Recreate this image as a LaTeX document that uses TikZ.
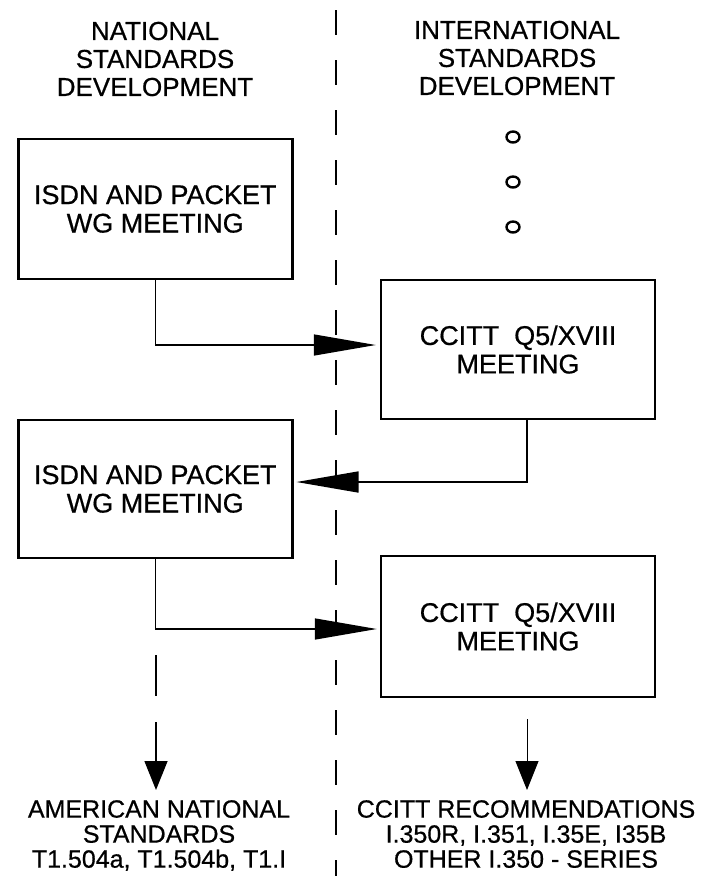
\documentclass[tikz,border=0pt]{standalone}
\usepackage{fontspec}
\setmainfont{Liberation Sans}[FakeBold=0.6]
\usetikzlibrary{arrows.meta,shapes.geometric}
\begin{document}
\begin{tikzpicture}[x=1pt,y=-1pt,
  box/.style={draw,line width=2.5pt,minimum width=274pt,minimum height=140pt,align=center,font=\fontsize{27}{28.5}\selectfont,inner sep=0pt},
  head/.style={align=center,font=\fontsize{26}{28}\selectfont},
  foot/.style={align=center,font=\fontsize{25}{25}\selectfont,anchor=north,inner xsep=0pt,inner ysep=10pt},
  conn/.style={line width=1.5pt},
  bigtip/.style={-{Triangle[length=62pt,width=21pt]}},
  smalltip/.style={-{Triangle[length=29pt,width=23pt]}},
  dot/.style={ellipse,draw,line width=2.4pt,minimum width=13pt,minimum height=11pt,inner sep=0pt},
  divider/.style={line width=1.5pt,dash pattern=on 25pt off 25pt}
  ]
\useasboundingbox (0,0) rectangle (704,876);

\coordinate (dtop) at (336,10);
\coordinate (dbot) at (336,876);
\draw[divider] (dtop) -- (dbot);

\node[head] (hl) at (155,59) {NATIONAL\\STANDARDS\\DEVELOPMENT};
\node[head] (hr) at (517,58) {INTERNATIONAL\\STANDARDS\\DEVELOPMENT};

\node[dot] (o1) at (513,137) {};
\node[dot] (o2) at (513,182) {};
\node[dot] (o3) at (513,227) {};

\node[box] (b1) at (155.25,209) {ISDN AND PACKET\\WG MEETING};
\node[box,minimum height=139pt] (b2) at (518,349.5) {CCITT\ \ Q5/XVIII\\MEETING};
\node[box,minimum height=138pt] (b3) at (155.25,489) {ISDN AND PACKET\\WG MEETING};
\node[box,minimum height=141pt] (b4) at (518,626.5) {CCITT\ \ Q5/XVIII\\MEETING};

\node[foot] (bl) at (159,790) {AMERICAN NATIONAL\\STANDARDS\\T1.504a, T1.504b, T1.I};
\node[foot] (br) at (526,790) {CCITT RECOMMENDATIONS\\I.350R, I.351, I.35E, I35B\\OTHER I.350 - SERIES};

\draw[conn,bigtip,shorten >=4pt] (b1.south) |- ([yshift=4.5pt]b2.west);
\draw[conn,bigtip,shorten >=3pt] ([xshift=9pt]b2.south) |- ([yshift=7pt]b3.east);
\draw[conn,bigtip,shorten >=3pt] (b3.south) |- ([yshift=-2.5pt]b4.west);

\coordinate (d1) at (156,655);
\draw[conn,smalltip,dash pattern=on 41pt off 26pt] (d1) -- (d1 |- bl.north);
\coordinate (d2) at (527,719);
\draw[line width=1pt,smalltip] (d2) -- (d2 |- br.north);
\end{tikzpicture}
\end{document}
